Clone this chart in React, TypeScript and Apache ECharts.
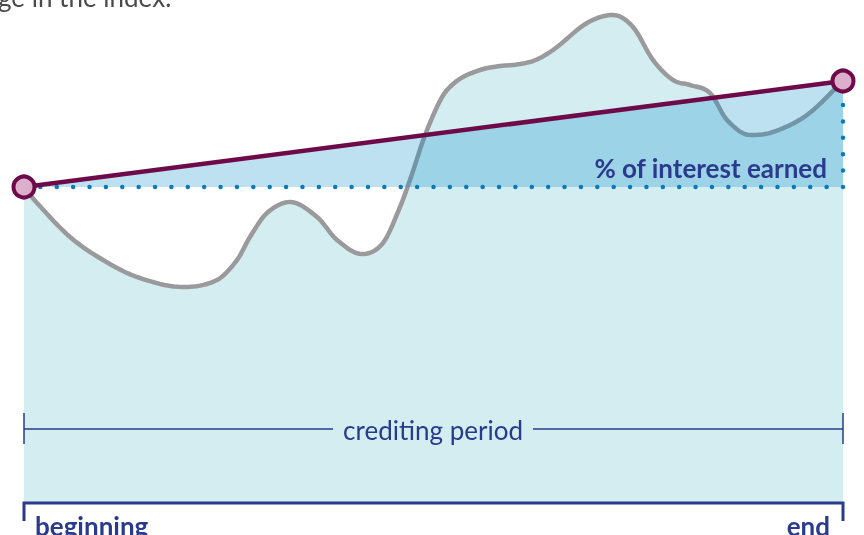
import React, { useEffect, useRef } from "react";
import * as echarts from "echarts";

// x: position within crediting period (0 = beginning, 100 = end)
// y: index level (arbitrary units)
const indexCurveX = [0, 1.59, 5.62, 9.65, 13.8, 19.41, 23.57, 26.01, 27.59, 29.67, 32.48, 35.78, 38.22, 41.27, 43.83, 45.91, 47.13, 49.21, 51.65, 55.68, 61.78, 64.59, 68.74, 71.92, 74.36, 76.8, 79.24, 81.32, 83.76, 85.84, 88.64, 91.45, 95.6, 100];
const indexCurveY = [63.2, 60.0, 53.2, 48.6, 45.2, 43.2, 44.6, 48.6, 53.2, 58.0, 60.2, 57.2, 52.6, 49.8, 52.0, 59.2, 64.6, 74.6, 82.6, 86.6, 88.2, 90.6, 96.0, 97.6, 95.2, 88.6, 84.6, 83.6, 82.0, 76.6, 73.6, 74.2, 77.6, 84.4];
const periodX = [0, 100];
const periodY = [63.2, 84.4];
const labels = {
  top: "ge in the index.",
  earned: "% of interest earned",
  period: "crediting period",
  start: "beginning",
  end: "end",
};

const NAVY = "#2a3a8c";
const PURPLE = "#6e0a4a";

// cubic Hermite smoothing of pixel points (Catmull-Rom tangents, flat at extrema), for drawing only
function smoothPath(pts: number[][], steps = 10): number[][] {
  const n = pts.length;
  const m: number[] = new Array(n);
  m[0] = (pts[1][1] - pts[0][1]) / (pts[1][0] - pts[0][0]);
  m[n - 1] = (pts[n - 1][1] - pts[n - 2][1]) / (pts[n - 1][0] - pts[n - 2][0]);
  for (let k = 1; k < n - 1; k++) {
    const a = pts[k][1] - pts[k - 1][1];
    const b = pts[k + 1][1] - pts[k][1];
    if (a * b <= 0) m[k] = 0;
    else m[k] = (pts[k + 1][1] - pts[k - 1][1]) / (pts[k + 1][0] - pts[k - 1][0]);
  }
  const out: number[][] = [pts[0]];
  for (let k = 0; k < n - 1; k++) {
    const [x0, y0] = pts[k];
    const [x1, y1] = pts[k + 1];
    const h = x1 - x0;
    for (let s = 1; s <= steps; s++) {
      const t = s / steps;
      const t2 = t * t, t3 = t2 * t;
      const h00 = 2 * t3 - 3 * t2 + 1;
      const h10 = t3 - 2 * t2 + t;
      const h01 = -2 * t3 + 3 * t2;
      const h11 = t3 - t2;
      out.push([x0 + h * t, h00 * y0 + h10 * h * m[k] + h01 * y1 + h11 * h * m[k + 1]]);
    }
  }
  return out;
}

export default function App() {
  const ref = useRef<HTMLDivElement>(null);
  useEffect(() => {
    if (!ref.current) return;
    const chart = echarts.init(ref.current, undefined, { renderer: "svg" });
    const period = periodX.map((x, i) => [x, periodY[i]]);
    const base = periodY[0];
    const left = 24, right = 843, bracketY = 429, bottomY = 503;
    const lineStyle = { stroke: NAVY, lineWidth: 1.5 };
    chart.setOption({
      animation: false,
      grid: { left: 24, right: 21, top: 3, bottom: 32 },
      xAxis: { type: "value", min: 0, max: 100, show: false },
      yAxis: { type: "value", min: 0, max: 100, show: false },
      series: [
        {
          type: "custom",
          data: [[0, 0]],
          z: 1,
          renderItem: (params: any, api: any) => {
            const pts = indexCurveX.map((x, i) => api.coord([x, indexCurveY[i]]));
            const line = smoothPath(pts);
            const y0 = api.coord([0, 0])[1];
            const poly = line.concat([[line[line.length - 1][0], y0], [line[0][0], y0]]);
            return {
              type: "group",
              children: [
                { type: "polygon", shape: { points: poly }, style: { fill: "#d4edf0" } },
                {
                  type: "polyline",
                  shape: { points: line },
                  style: { stroke: "#9a9a9c", lineWidth: 4.5, fill: "none", lineJoin: "round" },
                },
              ],
            };
          },
        },
        {
          type: "line",
          data: period,
          symbol: "none",
          lineStyle: { width: 0, opacity: 0 },
          areaStyle: { color: "rgba(0,138,200,0.26)", opacity: 1, origin: base },
          z: 2,
        },
        {
          type: "line",
          data: [[periodX[0], base], [periodX[1], base], [periodX[1], periodY[1]]],
          symbol: "none",
          lineStyle: { color: "#0a7ab8", width: 4.5, type: [0, 16.38], cap: "round" },
          z: 3,
        },
        {
          type: "line",
          data: period,
          symbol: "circle",
          symbolSize: 21,
          lineStyle: { color: PURPLE, width: 4.5 },
          itemStyle: { color: "#dcb0cc", borderColor: PURPLE, borderWidth: 4 },
          z: 4,
        },
      ],
      graphic: {
        elements: [
          {
            type: "text",
            x: -2,
            y: 10,
            z: 100,
            style: { text: labels.top, font: "26px Lato", fill: "#4a4a4a", verticalAlign: "bottom" },
          },
          {
            type: "text",
            x: 827,
            y: 168,
            z: 100,
            style: {
              text: labels.earned,
              font: "bold 26px Lato",
              fill: NAVY,
              align: "right",
              verticalAlign: "middle",
            },
          },
          // crediting period bracket
          { type: "line", z: 100, shape: { x1: left, y1: bracketY, x2: 333, y2: bracketY }, style: lineStyle },
          { type: "line", z: 100, shape: { x1: 533, y1: bracketY, x2: right, y2: bracketY }, style: lineStyle },
          { type: "line", z: 100, shape: { x1: left, y1: 413, x2: left, y2: 444 }, style: lineStyle },
          { type: "line", z: 100, shape: { x1: right, y1: 413, x2: right, y2: 444 }, style: lineStyle },
          {
            type: "text",
            x: 433,
            y: 430,
            z: 100,
            style: { text: labels.period, font: "26px Lato", fill: NAVY, align: "center", verticalAlign: "middle" },
          },
          // bottom timeline
          {
            type: "polyline",
            z: 100,
            shape: { points: [[left, 521], [left, bottomY], [right, bottomY], [right, 521]] },
            style: { stroke: NAVY, lineWidth: 3, fill: "none" },
          },
          {
            type: "text",
            x: 35,
            y: 526,
            z: 100,
            style: { text: labels.start, font: "bold 26px Lato", fill: NAVY, align: "left", verticalAlign: "middle" },
          },
          {
            type: "text",
            x: 830,
            y: 526,
            z: 100,
            style: { text: labels.end, font: "bold 26px Lato", fill: NAVY, align: "right", verticalAlign: "middle" },
          },
        ],
      },
    });
    return () => chart.dispose();
  }, []);
  return <div ref={ref} style={{ position: "fixed", left: 0, top: 0, width: 864, height: 535 }} />;
}
